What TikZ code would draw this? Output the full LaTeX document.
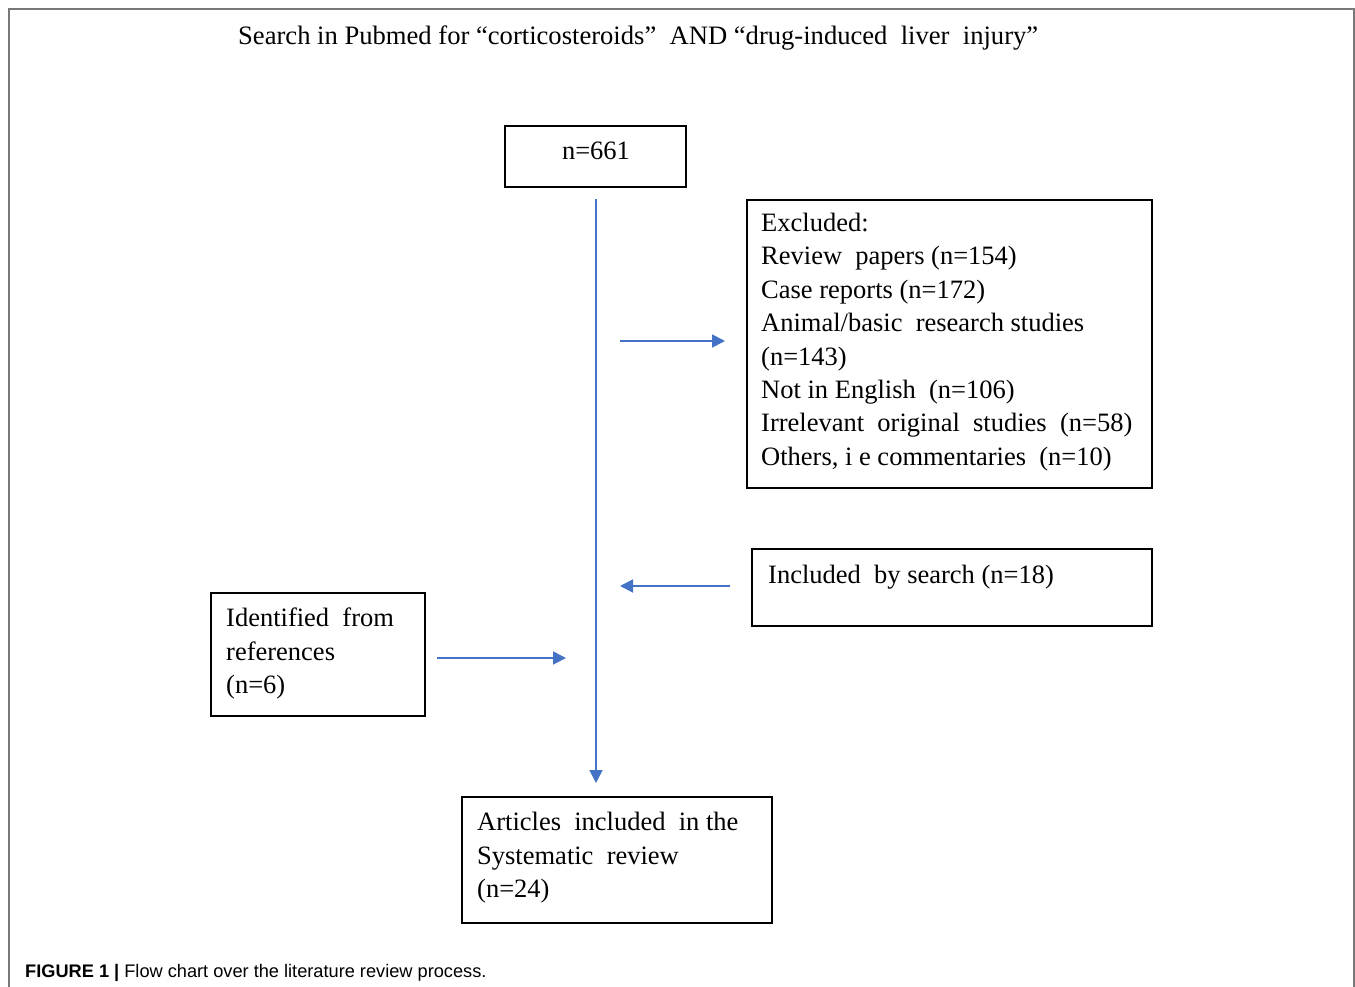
\documentclass[tikz,border=0pt]{standalone}
\usepackage{fontspec}
\setmainfont{Liberation Serif}
\setsansfont{Liberation Sans}
\usetikzlibrary{arrows.meta}
\definecolor{arrowblue}{RGB}{68,114,196}
\definecolor{framegray}{RGB}{120,120,120}
\begin{document}
\begin{tikzpicture}[x=1pt,y=-1pt,
  box/.style={draw=black,line width=1.6pt,inner sep=0pt},
  txt/.style={font=\fontsize{26.5}{33.4}\selectfont,align=left,anchor=north west,inner sep=0pt},
  flow/.style={draw=arrowblue,line width=1.8pt,-{Triangle[length=13pt,width=13pt]}}]
\useasboundingbox (0,0) rectangle (1355,986);
\draw[framegray,line width=1.5pt] (9,990) -- (9,9) -- (1354,9) -- (1354,990);
% title
\node[font=\fontsize{26.6}{30}\selectfont,anchor=base west,inner sep=0pt] (title) at (238,44) {Search in Pubmed for “corticosteroids”\ \ AND “drug-induced\ \ liver\ \ injury”};
% boxes
\draw[box] (505,126) rectangle (686,187);
\node[font=\fontsize{26.5}{30}\selectfont,inner sep=0pt] (n661) at (596,151) {n=661};
\draw[box] (747,200) rectangle (1152,488);
\node[txt] (excl) at (761,213) {Excluded:\\Review\ \ papers (n=154)\\Case reports (n=172)\\Animal/basic\ \ research studies\\(n=143)\\Not in English\ \ (n=106)\\Irrelevant\ \ original\ \ studies\ \ (n=58)\\Others, i e commentaries\ \ (n=10)};
\draw[box] (752,549) rectangle (1152,626);
\node[txt] (incl) at (768,565) {Included\ \ by search (n=18)};
\draw[box] (211,593) rectangle (425,716);
\node[txt] (ident) at (226,608) {Identified\ \ from\\references\\(n=6)};
\draw[box] (462,797) rectangle (772,923);
\node[txt] (art) at (477,812) {Articles\ \ included\ \ in the\\Systematic\ \ review\\(n=24)};
% arrows
\coordinate (vtop) at (596,199);
\coordinate (vbot) at (596,783);
\coordinate (r1a) at (620,341);
\coordinate (r1b) at (725,341);
\coordinate (l1a) at (730,586);
\coordinate (l1b) at (620,586);
\coordinate (r2a) at (437,658);
\coordinate (r2b) at (566,658);
\draw[flow] (vtop) -- (vbot);
\draw[flow] (r1a) -- (r1b);
\draw[flow] (l1a) -- (l1b);
\draw[flow] (r2a) -- (r2b);
% caption
\node[font=\sffamily\fontsize{18.2}{20}\selectfont,anchor=base west,inner sep=0pt] (cap) at (25,977) {\textbf{FIGURE 1 |} Flow chart over the literature review process.};
\end{tikzpicture}
\end{document}
